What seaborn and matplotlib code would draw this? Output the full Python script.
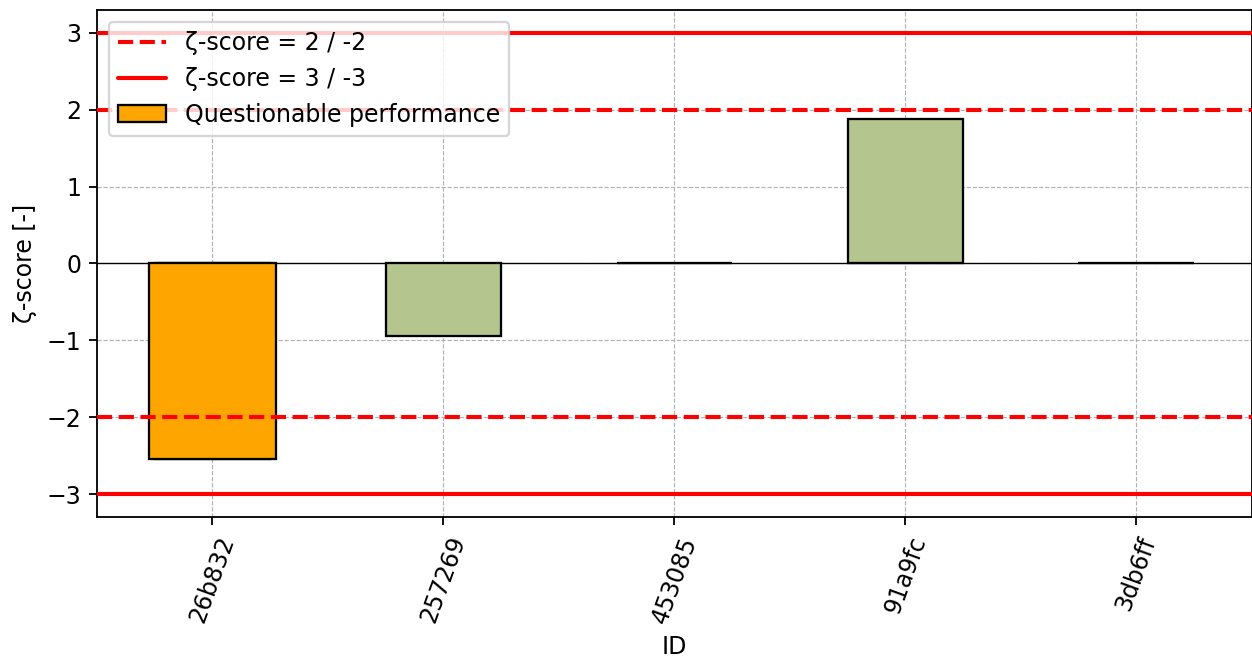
import numpy as np
import pandas as pd
import matplotlib
matplotlib.use("Agg")
import matplotlib.pyplot as plt
import seaborn as sns

# data
ids = ["26b832", "257269", "453085", "91a9fc", "3db6ff"]
zscores = [-2.55, -0.94, 0.0, 1.88, 0.0]
questionable = [True, False, False, False, False]

df = pd.DataFrame({"ID": ids, "z": zscores, "questionable": questionable})
df["z_q"] = np.where(df["questionable"], df["z"], np.nan)

sns.set_style("white")
plt.rcParams["font.family"] = ["DejaVu Sans"]
plt.rcParams["font.size"] = 10.4
for k in ["text.color", "axes.labelcolor", "xtick.color", "ytick.color"]:
    plt.rcParams[k] = "black"

fig, ax = plt.subplots(figsize=(7.64, 4.037), dpi=164)
fig.subplots_adjust(left=0.0774, right=0.999, top=0.985, bottom=0.219)

# normal bars
sns.barplot(data=df, x="ID", y="z", color="#b4c58e", saturation=1,
            width=0.5, edgecolor="black", linewidth=1.0, ax=ax, zorder=3)
# questionable bar on top
sns.barplot(data=df, x="ID", y="z_q", color="#FFA500", saturation=1,
            width=0.55, edgecolor="black", linewidth=1.0, ax=ax, zorder=4,
            label="Questionable performance")

lab2 = "\u03b6-score = 2 / -2"
lab3 = "\u03b6-score = 3 / -3"
ax.axhline(0, color="black", lw=0.6, zorder=2)
for v in [2, -2]:
    ax.axhline(v, color="red", ls="--", lw=1.8, zorder=5,
               label=lab2 if v == 2 else None)
for v in [3, -3]:
    ax.axhline(v, color="red", ls="-", lw=1.8, zorder=5,
               label=lab3 if v == 3 else None)

ax.set_ylim(-3.3, 3.3)
ax.set_xlim(-0.5, 4.5)
ax.set_yticks([-3, -2, -1, 0, 1, 2, 3])
ax.grid(True, ls="--", lw=0.5, color="#b0b0b0", zorder=0)
ax.set_axisbelow(True)
ax.tick_params(axis="x", labelrotation=70, bottom=True, length=3.5, width=0.8)
ax.tick_params(axis="y", left=True, length=3.5, width=0.8)
for s in ax.spines.values():
    s.set_color("black")
    s.set_linewidth(0.8)

ax.set_xlabel("ID")
ax.set_ylabel("\u03b6-score [-]")

h, l = ax.get_legend_handles_labels()
order = [l.index(lab2), l.index(lab3), l.index("Questionable performance")]
ax.legend([h[i] for i in order], [l[i] for i in order], loc="upper left",
          frameon=True, framealpha=0.8, edgecolor="#cccccc", fancybox=True)

fig.savefig("out.png", dpi=164)
